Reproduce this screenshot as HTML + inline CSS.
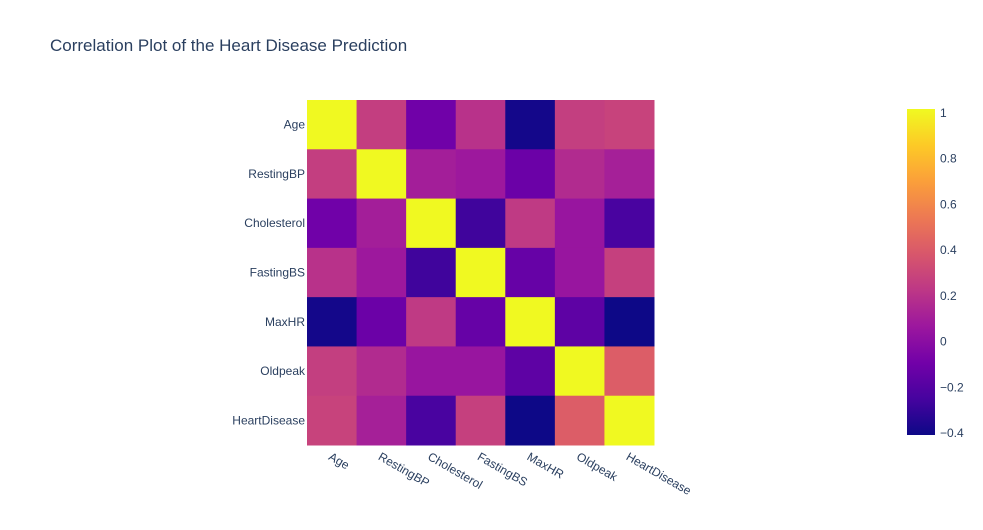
<!DOCTYPE html>
<html><head><meta charset="utf-8"><style>
body{margin:0;background:#fff;font-family:"Liberation Sans",sans-serif;}
text{font-family:"Liberation Sans",sans-serif;fill:#2a3f5f;}
</style></head><body>
<svg id="chart" width="983" height="525">
<defs><linearGradient id="plasma" x1="0" y1="1" x2="0" y2="0">
<stop offset="0" stop-color="#0d0887"/><stop offset="0.111" stop-color="#46039f"/><stop offset="0.222" stop-color="#7201a8"/><stop offset="0.333" stop-color="#9c179e"/><stop offset="0.444" stop-color="#bd3786"/><stop offset="0.556" stop-color="#d8576b"/><stop offset="0.667" stop-color="#ed7953"/><stop offset="0.778" stop-color="#fb9f3a"/><stop offset="0.889" stop-color="#fdca26"/><stop offset="1" stop-color="#f0f921"/>
</linearGradient></defs>
<text x="50" y="51" font-size="17">Correlation Plot of the Heart Disease Prediction</text>
<g id="cells"></g><g id="xlabels"></g><g id="ylabels"></g>
<rect x="907" y="109" width="28" height="326" fill="url(#plasma)"/>
<g id="cbticks"></g>
</svg>
<script>
const labels=["Age","RestingBP","Cholesterol","FastingBS","MaxHR","Oldpeak","HeartDisease"];
const row0=[1,0.254,-0.095,0.198,-0.382,0.259,0.282];
const row1=[0.254,1,0.101,0.070,-0.112,0.165,0.108];
const row2=[-0.095,0.101,1,-0.261,0.236,0.050,-0.233];
const row3=[0.198,0.070,-0.261,1,-0.131,0.053,0.267];
const row4=[-0.382,-0.112,0.236,-0.131,1,-0.161,-0.400];
const row5=[0.259,0.165,0.050,0.053,-0.161,1,0.404];
const row6=[0.282,0.108,-0.233,0.267,-0.400,0.404,1];
const rows=[row0,row1,row2,row3,row4,row5,row6];
const cbTicks=[-0.4,-0.2,0,0.2,0.4,0.6,0.8,1];
const zmin=-0.4,zmax=1;
const stops=["#0d0887","#46039f","#7201a8","#9c179e","#bd3786","#d8576b","#ed7953","#fb9f3a","#fdca26","#f0f921"];
function hex(c){return [1,3,5].map(i=>parseInt(c.substr(i,2),16));}
function color(v){let t=Math.max(0,Math.min(1,(v-zmin)/(zmax-zmin)))*(stops.length-1);let i=Math.min(Math.floor(t),stops.length-2),f=t-i;const a=hex(stops[i]),b=hex(stops[i+1]);return "rgb("+a.map((x,k)=>Math.round(x+(b[k]-x)*f)).join(",")+")";}
const X0=307,X1=654,Y0=100,Y1=445,n=labels.length,cw=(X1-X0)/n,ch=(Y1-Y0)/n;
const xs=i=>X0+i*cw, ys=j=>Y0+j*ch;
const NS="http://www.w3.org/2000/svg";
const cells=document.getElementById('cells');
rows.forEach((r,j)=>r.forEach((v,i)=>{const e=document.createElementNS(NS,'rect');
e.setAttribute('x',xs(i));e.setAttribute('y',ys(j));e.setAttribute('width',cw+0.5);e.setAttribute('height',ch+0.5);e.setAttribute('fill',color(v));


cells.appendChild(e);}));
const xl=document.getElementById('xlabels'),yl=document.getElementById('ylabels');
labels.forEach((l,i)=>{const t=document.createElementNS(NS,'text');const cx=xs(i)+cw/2-4,cy=Y1+14;
t.setAttribute('x',cx);t.setAttribute('y',cy);t.setAttribute('font-size','12');t.setAttribute('transform','rotate(30 '+cx+' '+cy+')');t.textContent=l;


xl.appendChild(t);
const u=document.createElementNS(NS,'text');u.setAttribute('x',X0-2);u.setAttribute('y',ys(i)+ch/2+4);u.setAttribute('font-size','12');u.setAttribute('text-anchor','end');u.textContent=l;


yl.appendChild(u);});
const cb=document.getElementById('cbticks');const cy=v=>433-(v-zmin)/(zmax-zmin)*320;
cbTicks.forEach(v=>{const t=document.createElementNS(NS,'text');t.setAttribute('x',940);t.setAttribute('y',cy(v)+4);t.setAttribute('font-size','12');t.textContent=(v<0?'−':'')+Math.abs(v);


cb.appendChild(t);});
</script>
</body></html>
